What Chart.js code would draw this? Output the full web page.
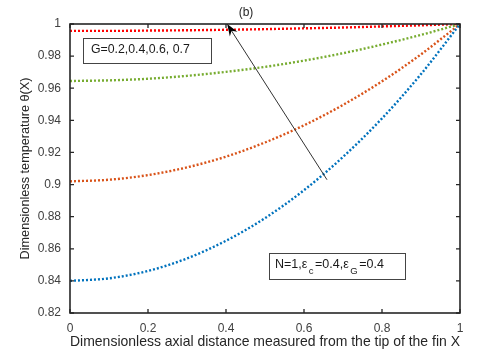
<!DOCTYPE html>
<html>
<head>
<meta charset="utf-8">
<script src="https://cdn.jsdelivr.net/npm/chart.js@4.4.0/dist/chart.umd.min.js"></script>
<style>
  body { margin: 0; background: #fff; }
  #wrap { width: 480px; height: 355px; }
</style>
</head>
<body>
<div id="wrap"><canvas id="myChart" width="480" height="355"></canvas></div>
<script>
// values
const xs = [0, 0.1, 0.2, 0.3, 0.4, 0.5, 0.6, 0.7, 0.8, 0.9, 1];
const seriesNames = ['G=0.2', 'G=0.4', 'G=0.6', 'G=0.7'];
const thetaBlue   = [0.840, 0.8416, 0.8462, 0.8540, 0.8650, 0.8791, 0.8965, 0.9172, 0.9412, 0.9688, 1.0];
const thetaOrange = [0.902, 0.9030, 0.9059, 0.9107, 0.9174, 0.9262, 0.9369, 0.9496, 0.9643, 0.9811, 1.0];
const thetaGreen  = [0.9645, 0.9649, 0.9659, 0.9677, 0.9702, 0.9733, 0.9772, 0.9818, 0.9872, 0.9932, 1.0];
const thetaRed    = [0.9957, 0.9957, 0.9959, 0.9961, 0.9964, 0.9968, 0.9973, 0.9978, 0.9985, 0.9992, 1.0];
const xTicks = [0, 0.2, 0.4, 0.6, 0.8, 1];
const xTickLabels = ['0', '0.2', '0.4', '0.6', '0.8', '1'];
const yTicks = [0.82, 0.84, 0.86, 0.88, 0.9, 0.92, 0.94, 0.96, 0.98, 1];
const yTickLabels = ['0.82', '0.84', '0.86', '0.88', '0.9', '0.92', '0.94', '0.96', '0.98', '1'];
// arrow: tail and tip in data units
const arrowFrom = [0.659, 0.903];
const arrowTo = [0.403, 1.0];

const colors = ['#0072BD', '#D95319', '#77AC30', '#FF0000'];
const allSeries = [thetaBlue, thetaOrange, thetaGreen, thetaRed];
const FONT = '"Liberation Sans", Arial, sans-serif';

function toPoints(vals) {
  return vals.map((v, i) => ({ x: xs[i], y: v }));
}

const frame = {
  id: 'frame',
  beforeDraw(chart) {
    const ctx = chart.ctx;
    ctx.save();
    ctx.fillStyle = '#fff';
    ctx.fillRect(0, 0, chart.width, chart.height);
    ctx.restore();
  },
  afterDraw(chart) {
    const ctx = chart.ctx;
    const a = chart.chartArea;
    const sx = chart.scales.x, sy = chart.scales.y;
    ctx.save();
    // box
    ctx.strokeStyle = '#262626';
    ctx.lineWidth = 1.6;
    ctx.strokeRect(a.left, a.top, a.right - a.left, a.bottom - a.top);
    // inward ticks
    ctx.lineWidth = 1.3;
    ctx.beginPath();
    xTicks.forEach(v => {
      const px = sx.getPixelForValue(v);
      ctx.moveTo(px, a.bottom); ctx.lineTo(px, a.bottom - 4);
      ctx.moveTo(px, a.top); ctx.lineTo(px, a.top + 4);
    });
    yTicks.forEach(v => {
      const py = sy.getPixelForValue(v);
      ctx.moveTo(a.left, py); ctx.lineTo(a.left + 4, py);
      ctx.moveTo(a.right, py); ctx.lineTo(a.right - 4, py);
    });
    ctx.stroke();

    // arrow
    const x1 = sx.getPixelForValue(arrowFrom[0]), y1 = sy.getPixelForValue(arrowFrom[1]);
    const x2 = sx.getPixelForValue(arrowTo[0]), y2 = sy.getPixelForValue(arrowTo[1]);
    const ang = Math.atan2(y2 - y1, x2 - x1);
    const c = Math.cos(ang), s = Math.sin(ang);
    ctx.strokeStyle = '#333';
    ctx.lineWidth = 1;
    ctx.beginPath();
    ctx.moveTo(x1, y1);
    ctx.lineTo(x2 - 6 * c, y2 - 6 * s);
    ctx.stroke();
    ctx.fillStyle = '#000';
    ctx.beginPath();
    ctx.moveTo(x2, y2);
    ctx.lineTo(x2 - 12 * c + 4.5 * s, y2 - 12 * s - 4.5 * c);
    ctx.lineTo(x2 - 8 * c, y2 - 8 * s);
    ctx.lineTo(x2 - 12 * c - 4.5 * s, y2 - 12 * s + 4.5 * c);
    ctx.closePath();
    ctx.fill();

    // text boxes
    ctx.fillStyle = '#fff';
    ctx.strokeStyle = '#444';
    ctx.lineWidth = 1;
    ctx.fillRect(83, 38, 128, 25);
    ctx.strokeRect(83.5, 38.5, 128, 25);
    ctx.fillRect(269, 253, 136, 26);
    ctx.strokeRect(269.5, 253.5, 136, 26);

    ctx.fillStyle = '#1a1a1a';
    ctx.textBaseline = 'middle';
    ctx.textAlign = 'left';
    ctx.font = '12.3px ' + FONT;
    ctx.fillText('G=0.2,0.4,0.6, 0.7', 91, 50);

    // N=1, eps_c=0.4, eps_G=0.4 with subscripts
    let tx = 275;
    const ty = 265;
    const parts = [['N=1,\u03B5', false], ['c', true], ['=0.4,\u03B5', false], ['G', true], ['=0.4', false]];
    parts.forEach(([t, sub]) => {
      ctx.font = (sub ? '9.5px ' : '12.5px ') + FONT;
      if (sub) tx += 1.5;
      ctx.fillText(t, tx, sub ? ty + 6 : ty);
      tx += ctx.measureText(t).width + (sub ? 1.5 : 0);
    });

    // panel label
    ctx.font = '12px ' + FONT;
    ctx.textAlign = 'center';
    ctx.fillStyle = '#262626';
    ctx.fillText('(b)', 246, 13);
    ctx.restore();
  }
};

const config = {
  type: 'line',
  data: {
    datasets: allSeries.map((vals, i) => ({
      label: seriesNames[i],
      data: toPoints(vals),
      borderColor: colors[i],
      backgroundColor: colors[i],
      borderWidth: 2.4,
      borderDash: [2, 2],
      pointRadius: 0,
      cubicInterpolationMode: 'monotone',
      fill: false
    }))
  },
  options: {
    responsive: false,
    animation: false,
    layout: { padding: { top: 24, right: 20, left: 0, bottom: 0 } },
    plugins: {
      legend: { display: false },
      tooltip: { enabled: false }
    },
    scales: {
      x: {
        type: 'linear',
        min: 0,
        max: 1,
        afterBuildTicks: s => { s.ticks = xTicks.map(v => ({ value: v })); },
        afterFit: s => { s.height = 42; },
        grid: { display: false, drawTicks: false },
        border: { display: false },
        ticks: {
          padding: 8,
          color: '#404040',
          font: { family: FONT, size: 12 },
          callback: (v, i) => xTickLabels[i]
        },
        title: {
          display: true,
          text: 'Dimensionless axial distance measured from the tip of the fin X',
          color: '#262626',
          font: { family: FONT, size: 14.5 },
          padding: { top: 0, bottom: 4 }
        }
      },
      y: {
        type: 'linear',
        min: 0.82,
        max: 1,
        afterBuildTicks: s => { s.ticks = yTicks.map(v => ({ value: v })); },
        afterFit: s => { s.width = 70; },
        grid: { display: false, drawTicks: false },
        border: { display: false },
        ticks: {
          padding: 9,
          color: '#404040',
          font: { family: FONT, size: 12 },
          callback: (v, i) => yTickLabels[i]
        },
        title: {
          display: true,
          text: 'Dimensionless temperature \u03B8(X)',
          color: '#262626',
          font: { family: FONT, size: 12.7 },
          padding: { top: 18, bottom: 0 }
        }
      }
    }
  },
  plugins: [frame]
};

const myChart = new Chart(document.getElementById('myChart'), config);
</script>
</body>
</html>
